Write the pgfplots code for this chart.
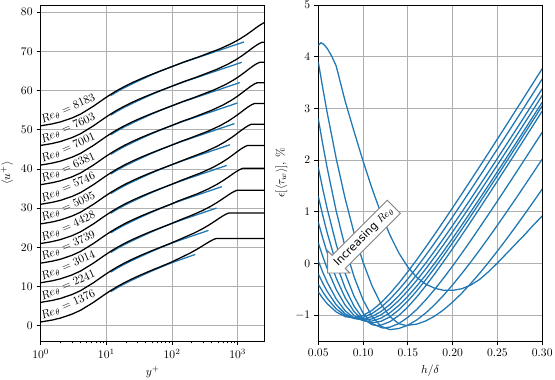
\documentclass[border=0pt]{standalone}
\usepackage{fontspec}
\usepackage{pgfplots}
\pgfplotsset{compat=1.18}
\usetikzlibrary{shapes.arrows}
\newfontfamily\dejavu{DejaVu Sans}
\definecolor{mplblue}{HTML}{1F77B4}
\definecolor{gridgray}{HTML}{B0B0B0}

\pgfplotsset{
  panel/.style={
    scale only axis, width=193.1pt, height=289.7pt,
    grid=major, grid style={gridgray, line width=0.8pt},
    axis line style={line width=0.8pt},
    tick align=outside, tick pos=left,
    major tick length=3.5pt, minor tick length=2pt,
    every tick/.append style={black, line width=0.8pt},
    no markers,
  },
}
\tikzset{
  blk/.style={black, line width=1.1pt},
  blu/.style={mplblue, line width=1.1pt},
  lbl/.style={anchor=base west, rotate=24, inner sep=0pt},
}

\begin{document}
\begin{tikzpicture}
\useasboundingbox (-35.1pt,-33.6pt) rectangle (443.4pt,294pt);

% left: mean velocity profiles, shifted by 5 each
\begin{axis}[panel,
  xmode=log, xmin=1, xmax=2570,
  ymin=-3.85, ymax=81.8,
  ytick={0,10,20,30,40,50,60,70,80},
  xlabel={$y^+$}, ylabel={$\langle u^+\rangle$},
]
% data (blue)
\addplot[blu] coordinates {(11.6,8.7)(14.55,9.7)(18.72,10.7)(24.76,11.7)(33.67,12.75)(46.98,13.85)(66.98,14.95)(97.07,16.05)(150,17.18)(225,18.21)};
\addplot[blu] coordinates {(11.6,13.7)(14.55,14.7)(18.72,15.7)(24.76,16.7)(33.67,17.75)(46.98,18.85)(66.98,19.95)(97.07,21.05)(150,22.18)(359,24.35)};
\addplot[blu] coordinates {(11.6,18.7)(14.55,19.7)(18.72,20.7)(24.76,21.7)(33.67,22.75)(46.98,23.85)(66.98,24.95)(97.07,26.05)(150,27.18)(474,30.03)};
\addplot[blu] coordinates {(11.6,23.7)(14.55,24.7)(18.72,25.7)(24.76,26.7)(33.67,27.75)(46.98,28.85)(66.98,29.95)(97.07,31.05)(150,32.18)(572,35.49)};
\addplot[blu] coordinates {(11.6,28.7)(14.55,29.7)(18.72,30.7)(24.76,31.7)(33.67,32.75)(46.98,33.85)(66.98,34.95)(97.07,36.05)(150,37.18)(681,40.91)};
\addplot[blu] coordinates {(11.6,33.7)(14.55,34.7)(18.72,35.7)(24.76,36.7)(33.67,37.75)(46.98,38.85)(66.98,39.95)(97.07,41.05)(150,42.18)(764,46.19)};
\addplot[blu] coordinates {(11.6,38.7)(14.55,39.7)(18.72,40.7)(24.76,41.7)(33.67,42.75)(46.98,43.85)(66.98,44.95)(97.07,46.05)(150,47.18)(888,51.56)};
\addplot[blu] coordinates {(11.6,43.7)(14.55,44.7)(18.72,45.7)(24.76,46.7)(33.67,47.75)(46.98,48.85)(66.98,49.95)(97.07,51.05)(150,52.18)(986,56.81)};
\addplot[blu] coordinates {(11.6,48.7)(14.55,49.7)(18.72,50.7)(24.76,51.7)(33.67,52.75)(46.98,53.85)(66.98,54.95)(97.07,56.05)(150,57.18)(1072,62.02)};
\addplot[blu] coordinates {(11.6,53.7)(14.55,54.7)(18.72,55.7)(24.76,56.7)(33.67,57.75)(46.98,58.85)(66.98,59.95)(97.07,61.05)(150,62.18)(1150,67.19)};
\addplot[blu] coordinates {(11.6,58.7)(14.55,59.7)(18.72,60.7)(24.76,61.7)(33.67,62.75)(46.98,63.85)(66.98,64.95)(97.07,66.05)(150,67.18)(1246,72.39)};
% composite profiles (black)
\addplot[blk] coordinates {(1,1)(1.5,1.5)(2,2)(3,3)(4.06,4)(6.35,6)(9.42,8)(11.6,9)(14.55,10)(18.72,11)(24.76,12.01)(33.67,13.03)(46.98,14.06)(66.98,15.11)(97.07,16.23)(141,17.54)(188,18.56)(235,19.46)(282,20.26)(329,20.96)(376,21.54)(423,21.99)(470,22.30)(2600,22.30)};
\addplot[blk] coordinates {(1,6)(1.5,6.5)(2,7)(3,8)(4.06,9)(6.35,11)(9.42,13)(11.6,14)(14.55,15)(18.72,16)(24.76,17)(33.67,18.01)(46.98,19.03)(66.98,20.06)(97.07,21.12)(147,22.43)(220.5,23.72)(294,24.80)(367.5,25.76)(441,26.62)(514.5,27.37)(588,28.00)(661.5,28.48)(735,28.80)(2600,28.80)};
\addplot[blk] coordinates {(1,11)(1.5,11.5)(2,12)(3,13)(4.06,14)(6.35,16)(9.42,18)(11.6,19)(14.55,20)(18.72,21)(24.76,22)(33.67,23)(46.98,24.02)(66.98,25.03)(97.07,26.07)(140,27.19)(196,28.14)(294,29.44)(392,30.53)(490,31.51)(588,32.39)(686,33.15)(784,33.79)(882,34.27)(980,34.60)(2600,34.60)};
\addplot[blk] coordinates {(1,16)(1.5,16.5)(2,17)(3,18)(4.06,19)(6.35,21)(9.42,23)(11.6,24)(14.55,25)(18.72,26)(24.76,27)(33.67,28)(46.98,29.01)(66.98,30.02)(97.07,31.05)(120,31.75)(240,33.64)(360,34.95)(480,36.06)(600,37.05)(720,37.95)(840,38.73)(960,39.38)(1080,39.87)(1200,40.20)(2600,40.20)};
\addplot[blk] coordinates {(1,21)(1.5,21.5)(2,22)(3,23)(4.06,24)(6.35,26)(9.42,28)(11.6,29)(14.55,30)(18.72,31)(24.76,32)(33.67,33)(46.98,34.01)(66.98,35.02)(97.07,36.04)(141,37.16)(282,39.08)(423,40.44)(564,41.60)(705,42.65)(846,43.61)(987,44.45)(1128,45.14)(1269,45.66)(1410,46.00)(2600,46.00)};
\addplot[blk] coordinates {(1,26)(1.5,26.5)(2,27)(3,28)(4.06,29)(6.35,31)(9.42,33)(11.6,34)(14.55,35)(18.72,36)(24.76,37)(33.67,38)(46.98,39.01)(66.98,40.02)(97.07,41.03)(161,42.48)(322,44.41)(483,45.77)(644,46.95)(805,48.01)(966,48.98)(1127,49.83)(1288,50.53)(1449,51.06)(1610,51.40)(2600,51.40)};
\addplot[blk] coordinates {(1,31)(1.5,31.5)(2,32)(3,33)(4.06,34)(6.35,36)(9.42,38)(11.6,39)(14.55,40)(18.72,41)(24.76,42)(33.67,43)(46.98,44)(66.98,45.01)(97.07,46.02)(135,47.01)(180,47.75)(360,49.68)(540,51.05)(720,52.23)(900,53.30)(1080,54.27)(1260,55.13)(1440,55.83)(1620,56.36)(1800,56.70)(2600,56.70)};
\addplot[blk] coordinates {(1,36)(1.5,36.5)(2,37)(3,38)(4.06,39)(6.35,41)(9.42,43)(11.6,44)(14.55,45)(18.72,46)(24.76,47)(33.67,48)(46.98,49)(66.98,50.01)(97.07,51.02)(140,52.10)(199,53.00)(398,54.94)(597,56.31)(796,57.49)(995,58.57)(1194,59.56)(1393,60.42)(1592,61.13)(1791,61.66)(1990,62.00)(2600,62.00)};
\addplot[blk] coordinates {(1,41)(1.5,41.5)(2,42)(3,43)(4.06,44)(6.35,46)(9.42,48)(11.6,49)(14.55,50)(18.72,51)(24.76,52)(33.67,53)(46.98,54)(66.98,55.01)(97.07,56.02)(145,57.18)(217,58.21)(434,60.15)(651,61.52)(868,62.70)(1085,63.78)(1302,64.76)(1519,65.62)(1736,66.33)(1953,66.86)(2170,67.20)(2600,67.20)};
\addplot[blk] coordinates {(1,46)(1.5,46.5)(2,47)(3,48)(4.06,49)(6.35,51)(9.42,53)(11.6,54)(14.55,55)(18.72,56)(24.76,57)(33.67,58)(46.98,59)(66.98,60.01)(97.07,61.02)(150,62.26)(235,63.40)(470,65.33)(705,66.69)(940,67.86)(1175,68.92)(1410,69.89)(1645,70.74)(1880,71.43)(2115,71.96)(2350,72.30)(2600,72.30)};
\addplot[blk] coordinates {(1,51)(1.5,51.5)(2,52)(3,53)(4.06,54)(6.35,56)(9.42,58)(11.6,59)(14.55,60)(18.72,61)(24.76,62)(33.67,63)(46.98,64)(66.98,65.01)(97.07,66.01)(150,67.25)(200,67.97)(270,68.73)(540,70.65)(810,72.00)(1080,73.15)(1350,74.19)(1620,75.13)(1890,75.96)(2160,76.64)(2430,77.15)(2700,77.49)};
\node[lbl] at (axis cs:1.07,1.55) {$Re_\theta = 1376$};
\node[lbl] at (axis cs:1.07,6.55) {$Re_\theta = 2241$};
\node[lbl] at (axis cs:1.07,11.55) {$Re_\theta = 3014$};
\node[lbl] at (axis cs:1.07,16.55) {$Re_\theta = 3739$};
\node[lbl] at (axis cs:1.07,21.55) {$Re_\theta = 4428$};
\node[lbl] at (axis cs:1.07,26.55) {$Re_\theta = 5095$};
\node[lbl] at (axis cs:1.07,31.55) {$Re_\theta = 5746$};
\node[lbl] at (axis cs:1.07,36.55) {$Re_\theta = 6381$};
\node[lbl] at (axis cs:1.07,41.55) {$Re_\theta = 7001$};
\node[lbl] at (axis cs:1.07,46.55) {$Re_\theta = 7603$};
\node[lbl] at (axis cs:1.07,51.55) {$Re_\theta = 8183$};
\end{axis}

% right: wall shear stress error vs matching height
\begin{axis}[panel, at={(239.3pt,0pt)},
  xmin=0.05, xmax=0.30, ymin=-1.5, ymax=5,
  xtick={0.05,0.1,0.15,0.2,0.25,0.3},
  ytick={-1,0,1,2,3,4,5},
  xticklabel style={/pgf/number format/.cd, fixed, fixed zerofill, precision=2},
  xlabel={$h/\delta$}, ylabel={$\epsilon[\langle\tau_w\rangle]$, \%},
]
\addplot[blu] coordinates {(0.05,4.22)(0.053,4.27)(0.056,4.24)(0.06,4.16)(0.065,4.01)(0.07,3.82)(0.075,3.48)(0.08,3.14)(0.09,2.55)(0.10,1.98)(0.11,1.45)(0.12,0.97)(0.13,0.55)(0.14,0.20)(0.15,-0.07)(0.16,-0.27)(0.17,-0.40)(0.18,-0.48)(0.19,-0.52)(0.20,-0.52)(0.21,-0.49)(0.22,-0.42)(0.23,-0.31)(0.24,-0.16)(0.25,0.01)(0.26,0.19)(0.27,0.37)(0.28,0.55)(0.29,0.74)(0.30,0.92)};
\addplot[blu] coordinates {(0.05,3.90)(0.055,3.393)(0.06,2.913)(0.07,2.031)(0.08,1.255)(0.09,0.586)(0.10,0.023)(0.11,-0.433)(0.12,-0.784)(0.13,-1.028)(0.14,-1.166)(0.148,-1.20)(0.16,-1.173)(0.17,-1.112)(0.18,-1.018)(0.19,-0.895)(0.20,-0.746)(0.21,-0.578)(0.22,-0.392)(0.23,-0.192)(0.24,0.020)(0.25,0.241)(0.26,0.469)(0.27,0.705)(0.28,0.946)(0.29,1.191)(0.30,1.44)};
\addplot[blu] coordinates {(0.05,2.80)(0.055,2.306)(0.06,1.844)(0.07,1.015)(0.08,0.314)(0.09,-0.26)(0.10,-0.706)(0.11,-1.025)(0.12,-1.216)(0.13,-1.28)(0.14,-1.258)(0.15,-1.194)(0.16,-1.092)(0.17,-0.957)(0.18,-0.796)(0.19,-0.613)(0.20,-0.413)(0.21,-0.200)(0.22,0.024)(0.23,0.256)(0.24,0.496)(0.25,0.741)(0.26,0.990)(0.27,1.243)(0.28,1.500)(0.29,1.759)(0.30,2.02)};
\addplot[blu] coordinates {(0.05,1.86)(0.055,1.443)(0.06,1.056)(0.07,0.372)(0.08,-0.192)(0.09,-0.636)(0.10,-0.960)(0.11,-1.164)(0.122,-1.25)(0.13,-1.232)(0.14,-1.161)(0.15,-1.043)(0.16,-0.888)(0.17,-0.704)(0.18,-0.500)(0.19,-0.280)(0.20,-0.048)(0.21,0.193)(0.22,0.440)(0.23,0.693)(0.24,0.949)(0.25,1.209)(0.26,1.472)(0.27,1.736)(0.28,2.003)(0.29,2.271)(0.30,2.54)};
\addplot[blu] coordinates {(0.05,1.30)(0.055,0.930)(0.06,0.590)(0.07,-0.002)(0.08,-0.475)(0.09,-0.830)(0.10,-1.067)(0.11,-1.185)(0.115,-1.20)(0.12,-1.192)(0.13,-1.126)(0.14,-1.005)(0.15,-0.841)(0.16,-0.647)(0.17,-0.431)(0.18,-0.201)(0.19,0.040)(0.20,0.289)(0.21,0.543)(0.22,0.802)(0.23,1.064)(0.24,1.329)(0.25,1.596)(0.26,1.864)(0.27,2.134)(0.28,2.405)(0.29,2.677)(0.30,2.95)};
\addplot[blu] coordinates {(0.05,0.80)(0.055,0.489)(0.06,0.204)(0.07,-0.283)(0.08,-0.663)(0.09,-0.933)(0.10,-1.096)(0.11,-1.15)(0.12,-1.119)(0.13,-1.032)(0.14,-0.897)(0.15,-0.726)(0.16,-0.530)(0.17,-0.314)(0.18,-0.084)(0.19,0.155)(0.20,0.402)(0.21,0.655)(0.22,0.912)(0.23,1.173)(0.24,1.436)(0.25,1.701)(0.26,1.968)(0.27,2.237)(0.28,2.507)(0.29,2.778)(0.30,3.05)};
\addplot[blu] coordinates {(0.05,0.40)(0.055,0.136)(0.06,-0.103)(0.07,-0.504)(0.08,-0.806)(0.09,-1.007)(0.10,-1.107)(0.105,-1.12)(0.11,-1.113)(0.12,-1.058)(0.13,-0.954)(0.14,-0.810)(0.15,-0.635)(0.16,-0.437)(0.17,-0.222)(0.18,0.006)(0.19,0.243)(0.20,0.488)(0.21,0.739)(0.22,0.994)(0.23,1.252)(0.24,1.514)(0.25,1.778)(0.26,2.043)(0.27,2.311)(0.28,2.579)(0.29,2.849)(0.30,3.12)};
\addplot[blu] coordinates {(0.05,0.05)(0.055,-0.168)(0.06,-0.364)(0.07,-0.686)(0.08,-0.916)(0.09,-1.054)(0.10,-1.10)(0.11,-1.073)(0.12,-0.994)(0.13,-0.872)(0.14,-0.714)(0.15,-0.529)(0.16,-0.324)(0.17,-0.104)(0.18,0.128)(0.19,0.368)(0.20,0.614)(0.21,0.866)(0.22,1.122)(0.23,1.381)(0.24,1.643)(0.25,1.907)(0.26,2.173)(0.27,2.440)(0.28,2.709)(0.29,2.979)(0.30,3.25)};
\addplot[blu] coordinates {(0.05,-0.20)(0.055,-0.381)(0.06,-0.541)(0.07,-0.799)(0.08,-0.974)(0.09,-1.065)(0.096,-1.08)(0.10,-1.076)(0.11,-1.027)(0.12,-0.930)(0.13,-0.792)(0.14,-0.622)(0.15,-0.428)(0.16,-0.216)(0.17,0.009)(0.18,0.244)(0.19,0.487)(0.20,0.736)(0.21,0.989)(0.22,1.246)(0.23,1.507)(0.24,1.770)(0.25,2.034)(0.26,2.301)(0.27,2.569)(0.28,2.838)(0.29,3.109)(0.30,3.38)};
\addplot[blu] coordinates {(0.05,-0.40)(0.055,-0.548)(0.06,-0.677)(0.07,-0.879)(0.08,-1.006)(0.09,-1.058)(0.092,-1.06)(0.10,-1.042)(0.11,-0.969)(0.12,-0.849)(0.13,-0.691)(0.14,-0.504)(0.15,-0.298)(0.16,-0.075)(0.17,0.159)(0.18,0.400)(0.19,0.649)(0.20,0.903)(0.21,1.160)(0.22,1.421)(0.23,1.684)(0.24,1.950)(0.25,2.217)(0.26,2.485)(0.27,2.755)(0.28,3.026)(0.29,3.298)(0.30,3.57)};
\addplot[blu] coordinates {(0.05,-0.55)(0.055,-0.673)(0.06,-0.779)(0.07,-0.938)(0.08,-1.028)(0.088,-1.05)(0.09,-1.049)(0.10,-1.005)(0.11,-0.906)(0.12,-0.761)(0.13,-0.582)(0.14,-0.379)(0.15,-0.159)(0.16,0.074)(0.17,0.317)(0.18,0.566)(0.19,0.821)(0.20,1.079)(0.21,1.341)(0.22,1.605)(0.23,1.871)(0.24,2.139)(0.25,2.409)(0.26,2.679)(0.27,2.951)(0.28,3.223)(0.29,3.496)(0.30,3.77)};
\node[single arrow, shape border rotate=180, rotate=45, draw=gray, fill=white,
  line width=0.8pt, inner xsep=2pt, inner ysep=3pt, single arrow head extend=5.6pt,
  font=\dejavu\fontsize{9.5}{11}\selectfont] at (axis cs:0.101,0.52) {Increasing $Re_\theta$};
\end{axis}
\end{tikzpicture}
\end{document}
